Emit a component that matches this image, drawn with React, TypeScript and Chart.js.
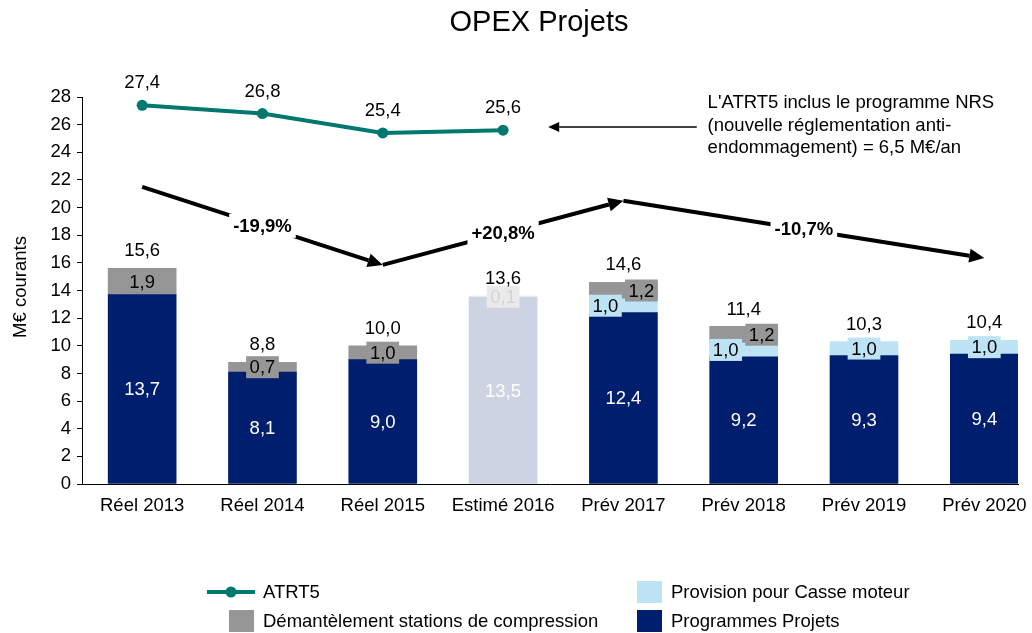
import { useEffect, useRef } from 'react';
import { Chart, registerables } from 'chart.js';

Chart.register(...registerables);

const FONT = '"Liberation Sans", Arial, Helvetica, sans-serif';

const categories = ['Réel 2013', 'Réel 2014', 'Réel 2015', 'Estimé 2016', 'Prév 2017', 'Prév 2018', 'Prév 2019', 'Prév 2020'];
const programmesProjets = [13.7, 8.1, 9.0, 13.5, 12.4, 9.2, 9.3, 9.4];
const provisionCasse: (number | null)[] = [null, null, null, null, 1.0, 1.0, 1.0, 1.0];
const demantelement: (number | null)[] = [1.9, 0.7, 1.0, 0.1, 1.2, 1.2, null, null];
const totals = [15.6, 8.8, 10.0, 13.6, 14.6, 11.4, 10.3, 10.4];
const atrt5 = [27.4, 26.8, 25.4, 25.6];
const estimatedIndex = 3;

const trendPoints = [
  { x: 0, y: 21.5 },
  { x: 2, y: 15.85 },
  { x: 4, y: 20.5 },
  { x: 7, y: 16.35 },
];
const trendLabels = ['-19,9%', '+20,8%', '-10,7%'];

const noteLines = ["L'ATRT5 inclus le programme NRS", '(nouvelle réglementation anti-', 'endommagement) = 6,5 M€/an'];
const noteArrow = { fromX: 4.61, toX: 3.375, y: 25.83 };
const noteAnchor = { x: 4.7, y: 27.55 };

const COLORS = {
  navy: '#001E6E',
  lavender: '#CDD3E3',
  lightBlue: '#BDE3F5',
  grey: '#969696',
  paleGrey: '#EAEAEA',
  paleGreyText: '#D4D4D4',
  teal: '#00786F',
};

const fmt = (v: number) => v.toFixed(1).replace('.', ',');

const customPlugin = {
  id: 'customDraw',
  afterDatasetsDraw(chart: any) {
    const ctx: CanvasRenderingContext2D = chart.ctx;
    const xs = chart.scales.x;
    const ys = chart.scales.y;
    ctx.save();
    ctx.font = `18.5px ${FONT}`;
    ctx.textAlign = 'center';
    ctx.textBaseline = 'middle';

    const boxLabel = (text: string, x: number, y: number, bg: string, fg: string) => {
      const w = ctx.measureText(text).width + 7;
      ctx.fillStyle = bg;
      ctx.fillRect(x - w / 2, y - 11, w, 22);
      ctx.fillStyle = fg;
      ctx.fillText(text, x, y + 1);
    };

    const m0 = chart.getDatasetMeta(0);
    programmesProjets.forEach((v, i) => {
      const el = m0.data[i];
      ctx.fillStyle = '#FFFFFF';
      ctx.fillText(fmt(v), el.x, (el.y + el.base) / 2 + 1);
    });

    const m1 = chart.getDatasetMeta(1);
    const m2 = chart.getDatasetMeta(2);
    categories.forEach((_, i) => {
      const pv = provisionCasse[i];
      const dv = demantelement[i];
      const both = pv != null && dv != null;
      if (pv != null) {
        const el = m1.data[i];
        const x = both ? el.x - 18 : el.x;
        boxLabel(fmt(pv), x, (el.y + el.base) / 2, COLORS.lightBlue, '#000000');
      }
      if (dv != null) {
        const el = m2.data[i];
        const x = both ? el.x + 18 : el.x;
        const est = i === estimatedIndex;
        boxLabel(fmt(dv), x, (el.y + el.base) / 2, est ? COLORS.paleGrey : COLORS.grey, est ? COLORS.paleGreyText : '#000000');
      }
      ctx.fillStyle = '#000000';
      ctx.fillText(fmt(totals[i]), xs.getPixelForValue(i), ys.getPixelForValue(totals[i]) - 17);
    });

    const m3 = chart.getDatasetMeta(3);
    atrt5.forEach((v, i) => {
      const el = m3.data[i];
      ctx.fillStyle = '#000000';
      ctx.fillText(fmt(v), el.x, el.y - 22);
    });

    const drawArrow = (x0: number, y0: number, x1: number, y1: number, lw: number, hl: number, hw: number) => {
      const ang = Math.atan2(y1 - y0, x1 - x0);
      const bx = x1 - Math.cos(ang) * hl;
      const by = y1 - Math.sin(ang) * hl;
      ctx.strokeStyle = '#000000';
      ctx.lineWidth = lw;
      ctx.beginPath();
      ctx.moveTo(x0, y0);
      ctx.lineTo(bx, by);
      ctx.stroke();
      ctx.fillStyle = '#000000';
      ctx.beginPath();
      ctx.moveTo(x1, y1);
      ctx.lineTo(bx + Math.sin(ang) * hw, by - Math.cos(ang) * hw);
      ctx.lineTo(bx - Math.sin(ang) * hw, by + Math.cos(ang) * hw);
      ctx.closePath();
      ctx.fill();
    };

    for (let k = 0; k < trendPoints.length - 1; k++) {
      const a = trendPoints[k];
      const b = trendPoints[k + 1];
      const x0 = xs.getPixelForValue(a.x);
      const y0 = ys.getPixelForValue(a.y);
      const x1 = xs.getPixelForValue(b.x);
      const y1 = ys.getPixelForValue(b.y);
      drawArrow(x0, y0, x1, y1, 4, 15, 7);
      const mx = (x0 + x1) / 2;
      const my = (y0 + y1) / 2;
      ctx.font = `bold 18.5px ${FONT}`;
      const w = ctx.measureText(trendLabels[k]).width + 8;
      ctx.fillStyle = '#FFFFFF';
      ctx.fillRect(mx - w / 2, my - 12, w, 24);
      ctx.fillStyle = '#000000';
      ctx.fillText(trendLabels[k], mx, my + 1);
    }

    const ny = ys.getPixelForValue(noteArrow.y);
    drawArrow(xs.getPixelForValue(noteArrow.fromX), ny, xs.getPixelForValue(noteArrow.toX), ny, 1.5, 11, 5);
    ctx.font = `18.5px ${FONT}`;
    ctx.textAlign = 'left';
    ctx.fillStyle = '#000000';
    const tx = xs.getPixelForValue(noteAnchor.x);
    const ty = ys.getPixelForValue(noteAnchor.y);
    noteLines.forEach((line, i) => ctx.fillText(line, tx, ty + i * 22.5));

    ctx.restore();
  },
  afterDraw(chart: any) {
    const ctx: CanvasRenderingContext2D = chart.ctx;
    ctx.save();
    ctx.fillStyle = '#000000';
    ctx.textAlign = 'center';
    ctx.textBaseline = 'middle';
    ctx.font = `29px ${FONT}`;
    ctx.fillText('OPEX Projets', 539, 23);

    ctx.font = `18.5px ${FONT}`;
    ctx.save();
    ctx.translate(21, 287);
    ctx.rotate(-Math.PI / 2);
    ctx.fillText('M€ courants', 0, 0);
    ctx.restore();

    ctx.textAlign = 'left';
    ctx.strokeStyle = COLORS.teal;
    ctx.lineWidth = 4;
    ctx.beginPath();
    ctx.moveTo(207, 592);
    ctx.lineTo(255, 592);
    ctx.stroke();
    ctx.fillStyle = COLORS.teal;
    ctx.beginPath();
    ctx.arc(231, 592, 5.5, 0, Math.PI * 2);
    ctx.fill();
    ctx.fillStyle = '#000000';
    ctx.fillText('ATRT5', 263, 593);

    ctx.fillStyle = COLORS.grey;
    ctx.fillRect(229, 610, 25, 22);
    ctx.fillStyle = '#000000';
    ctx.fillText('Démantèlement stations de compression', 263, 622);

    ctx.fillStyle = COLORS.lightBlue;
    ctx.fillRect(637, 581, 25, 22);
    ctx.fillStyle = '#000000';
    ctx.fillText('Provision pour Casse moteur', 671, 593);

    ctx.fillStyle = COLORS.navy;
    ctx.fillRect(637, 610, 25, 22);
    ctx.fillStyle = '#000000';
    ctx.fillText('Programmes Projets', 671, 622);
    ctx.restore();
  },
};

export default function App() {
  const ref = useRef<HTMLCanvasElement | null>(null);

  useEffect(() => {
    document.body.style.margin = '0';
    if (!ref.current) return;
    Chart.defaults.font.family = FONT;
    const toXY = (arr: (number | null)[]) => arr.map((v, i) => ({ x: i, y: v }));

    const chart = new Chart(ref.current, {
      type: 'bar',
      data: {
        datasets: [
          {
            type: 'bar',
            label: 'Programmes Projets',
            data: toXY(programmesProjets) as any,
            backgroundColor: programmesProjets.map((_, i) => (i === estimatedIndex ? COLORS.lavender : COLORS.navy)),
            barThickness: 68,
            order: 2,
          },
          {
            type: 'bar',
            label: 'Provision pour Casse moteur',
            data: toXY(provisionCasse) as any,
            backgroundColor: COLORS.lightBlue,
            barThickness: 68,
            order: 2,
          },
          {
            type: 'bar',
            label: 'Démantèlement stations de compression',
            data: toXY(demantelement) as any,
            backgroundColor: demantelement.map((_, i) => (i === estimatedIndex ? COLORS.paleGrey : COLORS.grey)),
            barThickness: 68,
            order: 2,
          },
          {
            type: 'line',
            label: 'ATRT5',
            data: toXY(atrt5) as any,
            borderColor: COLORS.teal,
            backgroundColor: COLORS.teal,
            borderWidth: 4,
            pointRadius: 5.5,
            pointBorderWidth: 0,
            pointBackgroundColor: COLORS.teal,
            tension: 0,
            stack: 'line',
            order: 1,
          } as any,
        ],
      },
      options: {
        animation: false,
        responsive: false,
        maintainAspectRatio: false,
        layout: { padding: { left: 0, right: 14, top: 97, bottom: 0 } },
        plugins: {
          legend: { display: false },
          tooltip: { enabled: false },
          title: { display: false },
        },
        scales: {
          x: {
            type: 'linear',
            min: -0.5,
            max: 7.28,
            offset: false,
            stacked: true,
            grid: { display: false, drawTicks: false, offset: false },
            border: { display: true, color: '#000000', width: 1 },
            ticks: {
              autoSkip: false,
              maxRotation: 0,
              padding: 11,
              color: '#000000',
              font: { size: 18.5, family: FONT },
              callback: (v: any) => categories[v as number] ?? '',
            },
            afterBuildTicks: (scale: any) => {
              scale.ticks = categories.map((_, i) => ({ value: i }));
            },
            afterFit: (scale: any) => {
              scale.height = 149;
              scale.paddingLeft = 0;
              scale.paddingRight = 0;
            },
          } as any,
          y: {
            type: 'linear',
            min: 0,
            max: 28,
            stacked: true,
            grid: { display: true, drawOnChartArea: false, drawTicks: true, tickLength: 5, color: '#000000' },
            border: { display: true, color: '#000000', width: 1 },
            ticks: {
              stepSize: 2,
              padding: 6,
              color: '#000000',
              font: { size: 18.5, family: FONT },
            },
            afterFit: (scale: any) => {
              scale.width = 82;
              scale.paddingTop = 0;
              scale.paddingBottom = 0;
            },
          },
        },
      },
      plugins: [customPlugin],
    });
    return () => chart.destroy();
  }, []);

  return (
    <div style={{ width: 1032, height: 633, overflow: 'hidden' }}>
      <canvas ref={ref} width={1032} height={633} style={{ display: 'block', width: 1032, height: 633 }} />
    </div>
  );
}
